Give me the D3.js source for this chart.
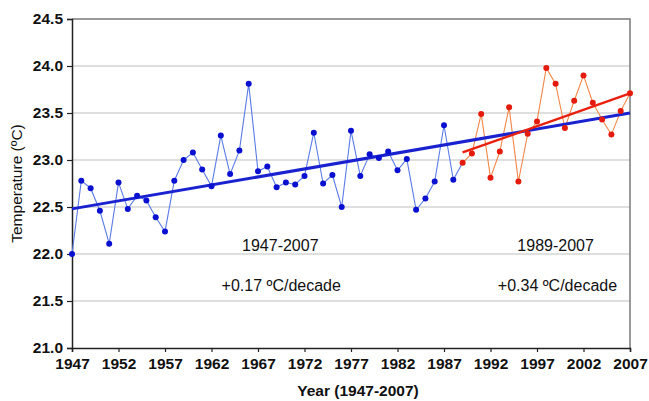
<!DOCTYPE html>
<html>
<head>
<meta charset="utf-8">
<script src="https://cdn.jsdelivr.net/npm/d3@7"></script>
<style>
  body { margin: 0; background: #fff; }
  svg { display: block; font-family: "Liberation Sans", Arial, sans-serif; }
  .tick text { font-weight: bold; font-size: 15.5px; fill: #111; }
</style>
</head>
<body>
<div id="chart"></div>
<script>
// years and temperatures (ºC)
const yearsA = [1947, 1948, 1949, 1950, 1951, 1952, 1953, 1954, 1955, 1956,
  1957, 1958, 1959, 1960, 1961, 1962, 1963, 1964, 1965, 1966,
  1967, 1968, 1969, 1970, 1971, 1972, 1973, 1974, 1975, 1976,
  1977, 1978, 1979, 1980, 1981, 1982, 1983, 1984, 1985, 1986,
  1987, 1988];
const tempsA = [22.00, 22.78, 22.70, 22.46, 22.11, 22.76, 22.48, 22.62, 22.57, 22.39,
  22.24, 22.78, 23.00, 23.08, 22.90, 22.72, 23.26, 22.85, 23.10, 23.81,
  22.88, 22.93, 22.71, 22.76, 22.74, 22.83, 23.29, 22.75, 22.84, 22.50,
  23.31, 22.83, 23.06, 23.02, 23.09, 22.89, 23.01, 22.47, 22.59, 22.77,
  23.37, 22.79];
const yearsB = [1989, 1990, 1991, 1992, 1993, 1994, 1995, 1996, 1997, 1998,
  1999, 2000, 2001, 2002, 2003, 2004, 2005, 2006, 2007];
const tempsB = [22.97, 23.07, 23.49, 22.81, 23.09, 23.56, 22.77, 23.28, 23.41, 23.98,
  23.81, 23.34, 23.63, 23.90, 23.61, 23.43, 23.27, 23.52, 23.71];

// fitted trends (end points)
const trendAYears = [1947, 2007];
const trendAValues = [22.48, 23.50];
const trendBYears = [1989, 2007];
const trendBValues = [23.08, 23.71];

const xTicks = [1947, 1952, 1957, 1962, 1967, 1972, 1977, 1982, 1987, 1992, 1997, 2002, 2007];
const yTicks = [21.0, 21.5, 22.0, 22.5, 23.0, 23.5, 24.0, 24.5];

const width = 649, height = 401;
const margin = {top: 19, right: 19, bottom: 53, left: 72};

const svg = d3.select("#chart").append("svg")
  .attr("width", width)
  .attr("height", height);

const x = d3.scaleLinear()
  .domain([1947, 2007])
  .range([margin.left, width - margin.right]);

const y = d3.scaleLinear()
  .domain([21, 24.5])
  .range([height - margin.bottom, margin.top]);

// gridlines
svg.append("g")
  .selectAll("line")
  .data(yTicks.slice(1, -1))
  .enter().append("line")
  .attr("x1", x(1947)).attr("x2", x(2007))
  .attr("y1", d => y(d)).attr("y2", d => y(d))
  .attr("stroke", "#d4d4d4")
  .attr("stroke-width", 1.5);

// top and right frame
svg.append("path")
  .attr("d", `M${x(1947)},${y(24.5)}H${x(2007)}V${y(21)}`)
  .attr("fill", "none")
  .attr("stroke", "#7a7a7a")
  .attr("stroke-width", 1.5);

// axes
const xAxis = svg.append("g")
  .attr("transform", `translate(0,${y(21)})`)
  .call(d3.axisBottom(x).tickValues(xTicks).tickFormat(d3.format("d")).tickSizeOuter(0).tickSize(4).tickPadding(6));

const yAxis = svg.append("g")
  .attr("transform", `translate(${x(1947)},0)`)
  .call(d3.axisLeft(y).tickValues(yTicks).tickFormat(d3.format(".1f")).tickSizeOuter(0).tickSize(5).tickPadding(4));

[xAxis, yAxis].forEach(g => {
  g.select(".domain").attr("stroke", "#222").attr("stroke-width", 1.5);
  g.selectAll(".tick line").attr("stroke", "#222").attr("stroke-width", 1.2);
});

const line = d3.line()
  .x(d => x(d[0]))
  .y(d => y(d[1]));

const ptsA = yearsA.map((yr, i) => [yr, tempsA[i]]);
const ptsB = yearsB.map((yr, i) => [yr, tempsB[i]]);

// series lines (blue joins the first red point)
svg.append("path")
  .datum(ptsA.concat([ptsB[0]]))
  .attr("d", line)
  .attr("fill", "none")
  .attr("stroke", "#5b7be6")
  .attr("stroke-width", 1.1);

svg.append("path")
  .datum(ptsB)
  .attr("d", line)
  .attr("fill", "none")
  .attr("stroke", "#f2874a")
  .attr("stroke-width", 1.1);

// trend lines
svg.append("path")
  .datum(trendAYears.map((yr, i) => [yr, trendAValues[i]]))
  .attr("d", line)
  .attr("stroke", "#1a22d0")
  .attr("stroke-width", 3);

svg.append("path")
  .datum(trendBYears.map((yr, i) => [yr, trendBValues[i]]))
  .attr("d", line)
  .attr("stroke", "#e8200e")
  .attr("stroke-width", 2.4);

// markers
svg.append("g")
  .selectAll("circle")
  .data(ptsA)
  .enter().append("circle")
  .attr("cx", d => x(d[0]))
  .attr("cy", d => y(d[1]))
  .attr("r", 3)
  .attr("fill", "#0a10d0");

svg.append("g")
  .selectAll("circle")
  .data(ptsB)
  .enter().append("circle")
  .attr("cx", d => x(d[0]))
  .attr("cy", d => y(d[1]))
  .attr("r", 3)
  .attr("fill", "#e41a0c");

// annotations
const notes = [
  {text: "1947-2007", yr: 1969.4, v: 22.03},
  {text: "+0.17 ºC/decade", yr: 1969.5, v: 21.605},
  {text: "1989-2007", yr: 1999.0, v: 22.03},
  {text: "+0.34 ºC/decade", yr: 1999.2, v: 21.605}
];
svg.append("g")
  .selectAll("text")
  .data(notes)
  .enter().append("text")
  .attr("x", d => x(d.yr))
  .attr("y", d => y(d.v))
  .attr("text-anchor", "middle")
  .attr("font-size", "16px")
  .attr("fill", "#111")
  .text(d => d.text);

// axis titles
svg.append("text")
  .attr("x", 358)
  .attr("y", 396)
  .attr("text-anchor", "middle")
  .attr("font-weight", "bold")
  .attr("font-size", "15.5px")
  .attr("fill", "#111")
  .text("Year (1947-2007)");

svg.append("text")
  .attr("transform", `translate(22,${y(22.75)}) rotate(-90)`)
  .attr("text-anchor", "middle")
  .attr("font-size", "15.5px")
  .attr("fill", "#111")
  .text("Temperature (ºC)");
</script>
</body>
</html>
